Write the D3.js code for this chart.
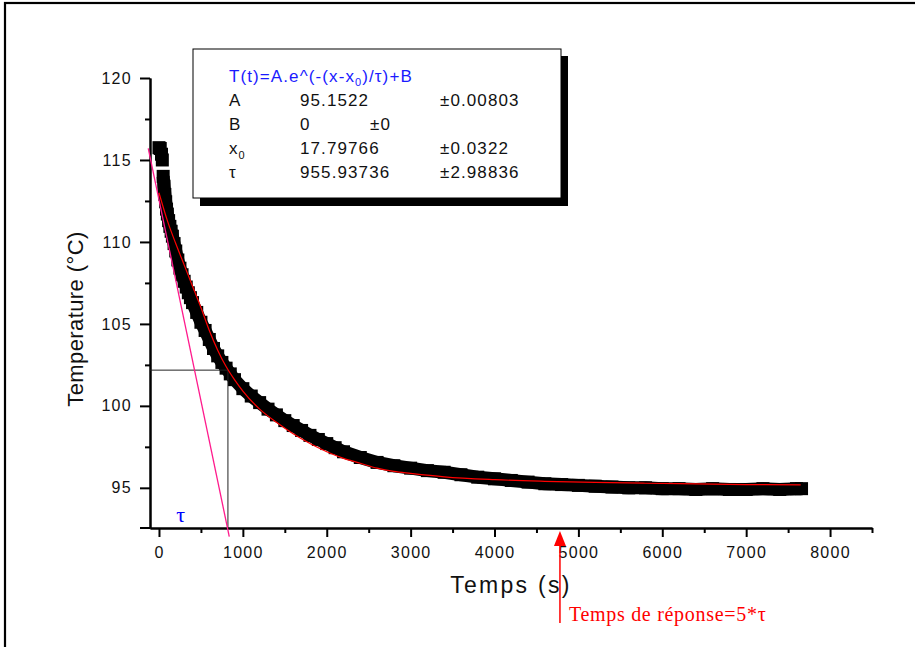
<!DOCTYPE html>
<html>
<head>
<meta charset="utf-8">
<script src="https://cdn.jsdelivr.net/npm/d3@7"></script>
<style>
  body { margin: 0; background: #fff; }
  svg { display: block; font-family: "Liberation Sans", Arial, sans-serif; }
</style>
</head>
<body>
<svg id="graph"></svg>
<script>
// measured cooling curve (s, °C)
var timeData = [0, 15, 30, 40, 50, 60, 70, 80, 90, 100, 115, 130, 145, 160, 180, 200, 225, 250, 275, 300,
  325, 350, 375, 400, 450, 500, 550, 600, 650, 700, 750, 800, 850, 900, 1000, 1100, 1200, 1300, 1400,
  1500, 1600, 1700, 1800, 1900, 2000, 2100, 2200, 2400, 2600, 2800, 3000, 3200, 3400, 3600, 3800, 4000,
  4200, 4400, 4600, 4800, 5000, 5200, 5400, 5600, 5800, 6000, 6200, 6400, 6600, 6800, 7000, 7200, 7400,
  7600, 7660];
var tempData = [115.75, 115.7, 115.35, 115.0, 114.0, 113.4, 112.9, 112.45, 112.0, 111.7, 111.3, 110.95, 110.65, 110.35, 109.9, 109.45, 108.9, 108.4, 108.0, 107.6,
  107.25, 106.9, 106.6, 106.3, 105.7, 105.1, 104.6, 104.05, 103.5, 103.05, 102.65, 102.3, 101.95, 101.6, 101.05, 100.6, 100.2, 99.8, 99.45,
  99.1, 98.8, 98.5, 98.2, 97.95, 97.7, 97.45, 97.2, 96.85, 96.55, 96.35, 96.2, 96.05, 95.95, 95.8, 95.65, 95.55,
  95.45, 95.35, 95.25, 95.2, 95.15, 95.1, 95.05, 95.0, 95.0, 94.95, 94.95, 94.9, 94.95, 94.9, 94.9, 94.95, 94.9,
  94.95, 94.95];

// fitted curve (red)
var fitTime = [0, 100, 200, 300, 400, 500, 600, 700, 800, 900, 1000, 1200, 1400, 1600, 1800, 2000, 2200, 2400,
  2600, 2800, 3000, 3400, 4000, 4600, 5200, 5800, 6400, 7000, 7650];
var fitTemp = [113.0, 111.3, 109.9, 108.6, 107.3, 106.0, 104.6, 103.4, 102.4, 101.6, 100.9, 99.8, 99.0, 98.3, 97.7, 97.2, 96.8, 96.5,
  96.2, 96.0, 95.88, 95.67, 95.5, 95.4, 95.33, 95.28, 95.24, 95.2, 95.18];

// tangent (pink) and tau construction lines
var tangentTime = [-128, 838];
var tangentTemp = [115.71, 92.03];
var tauTime = 822;
var tauTemp = 102.18;
var responseTime = 4780;

var xTicks = [0, 1000, 2000, 3000, 4000, 5000, 6000, 7000, 8000];
var xMinor = [500, 1500, 2500, 3500, 4500, 5500, 6500, 7500, 8500];
var yTicks = [95, 100, 105, 110, 115, 120];
var yMinor = [97.5, 102.5, 107.5, 112.5, 117.5];

var paramNames = ["A", "B", "x", "τ"];
var paramValues = ["95.1522", "0", "17.79766", "955.93736"];
var paramErrors = ["±0.00803", "±0", "±0.0322", "±2.98836"];

var svg = d3.select("#graph")
  .attr("width", 915)
  .attr("height", 647);

// outer frame
svg.append("rect")
  .attr("x", 5).attr("y", 3)
  .attr("width", 1000).attr("height", 1000)
  .attr("fill", "none").attr("stroke", "#000").attr("stroke-width", 2.2);

var x = d3.scaleLinear().domain([-107, 8500]).range([150, 872]);
var y = d3.scaleLinear().domain([92.55, 120]).range([528, 78]);

function styleAxis(g) {
  g.select(".domain").attr("stroke-width", 2);
  g.selectAll(".tick line").attr("stroke-width", 2);
  g.selectAll(".tick text")
    .attr("font-family", "Liberation Sans, Arial, sans-serif")
    .attr("font-size", 16)
    .attr("letter-spacing", 1.3)
    .attr("fill", "#111");
}

// x axis
svg.append("g")
  .attr("transform", "translate(0,528)")
  .call(d3.axisBottom(x).tickValues(xMinor).tickSize(5).tickSizeOuter(0).tickFormat(""))
  .call(styleAxis);
svg.append("g")
  .attr("transform", "translate(0,528)")
  .call(d3.axisBottom(x).tickValues(xTicks).tickSize(9).tickSizeOuter(0).tickPadding(10).tickFormat(d3.format("d")))
  .call(styleAxis);

// y axis
svg.append("g")
  .attr("transform", "translate(150,0)")
  .call(d3.axisLeft(y).tickValues(yMinor).tickSize(5).tickSizeOuter(0).tickFormat(""))
  .call(styleAxis);
svg.append("g")
  .attr("transform", "translate(150,0)")
  .call(d3.axisLeft(y).tickValues(yTicks).tickSize(10).tickSizeOuter(0).tickPadding(8).tickFormat(d3.format("d")))
  .call(styleAxis);
// little stub left of the origin
svg.append("line")
  .attr("x1", 140).attr("x2", 150).attr("y1", y(92.55)).attr("y2", y(92.55))
  .attr("stroke", "#000").attr("stroke-width", 2);

// axis titles
svg.append("text")
  .attr("x", (150 + 872) / 2).attr("y", 593)
  .attr("text-anchor", "middle")
  .attr("font-size", 23).attr("letter-spacing", 2.3)
  .attr("fill", "#111")
  .text("Temps (s)");

svg.append("text")
  .attr("transform", "translate(83,319) rotate(-90)")
  .attr("text-anchor", "middle")
  .attr("font-size", 22).attr("letter-spacing", 0.4)
  .attr("fill", "#111")
  .text("Temperature (°C)");

// data band
var pts = timeData.map(function(t, i) { return [t, tempData[i]]; });
var line = d3.line()
  .x(function(d) { return x(d[0]); })
  .y(function(d) { return y(d[1]); });

svg.append("path")
  .datum(pts.slice(4))
  .attr("d", line)
  .attr("fill", "none")
  .attr("stroke", "#000")
  .attr("stroke-width", 13)
  .attr("stroke-linejoin", "round");

svg.selectAll(".pt")
  .data(pts)
  .enter().append("rect")
  .attr("class", "pt")
  .attr("x", function(d) { return x(d[0]) - 6.5; })
  .attr("y", function(d) { return y(d[1]) - 6.5; })
  .attr("width", 13).attr("height", 13)
  .attr("fill", "#000");

// construction lines for tau
svg.append("line")
  .attr("x1", x(-107)).attr("x2", x(tauTime))
  .attr("y1", y(tauTemp)).attr("y2", y(tauTemp))
  .attr("stroke", "#222").attr("stroke-width", 1);
svg.append("line")
  .attr("x1", x(tauTime)).attr("x2", x(tauTime))
  .attr("y1", y(tauTemp)).attr("y2", y(92.55))
  .attr("stroke", "#222").attr("stroke-width", 1);

// fit curve
var fitPts = fitTime.map(function(t, i) { return [t, fitTemp[i]]; });
svg.append("path")
  .datum(fitPts)
  .attr("d", line.curve(d3.curveMonotoneX))
  .attr("fill", "none")
  .attr("stroke", "#ff0000")
  .attr("stroke-width", 1.2);

// tangent
svg.append("line")
  .attr("x1", x(tangentTime[0])).attr("y1", y(tangentTemp[0]))
  .attr("x2", x(tangentTime[1])).attr("y2", y(tangentTemp[1]))
  .attr("stroke", "#ff1a8c").attr("stroke-width", 1.3);

svg.append("text")
  .attr("x", x(260)).attr("y", 522)
  .attr("text-anchor", "middle")
  .attr("font-family", "Liberation Serif, Times New Roman, serif")
  .attr("font-size", 22)
  .attr("fill", "#0000ff")
  .text("τ");

// response time arrow
var rx = x(responseTime);
svg.append("line")
  .attr("x1", rx).attr("x2", rx)
  .attr("y1", 623).attr("y2", 544)
  .attr("stroke", "#ff0000").attr("stroke-width", 1.5);
svg.append("path")
  .attr("d", "M" + rx + ",531 L" + (rx - 6) + ",546 L" + (rx + 6) + ",546 Z")
  .attr("fill", "#ff0000");
svg.append("text")
  .attr("x", rx + 9).attr("y", 621)
  .attr("font-family", "Liberation Serif, Times New Roman, serif")
  .attr("font-size", 20).attr("letter-spacing", 0.7)
  .attr("fill", "#ff0000")
  .text("Temps de réponse=5*τ");

// parameter box
svg.append("rect")
  .attr("x", 200).attr("y", 56).attr("width", 368).attr("height", 150)
  .attr("fill", "#000");
svg.append("rect")
  .attr("x", 193).attr("y", 49).attr("width", 368).attr("height", 149)
  .attr("fill", "#fff").attr("stroke", "#000").attr("stroke-width", 1);

var box = svg.append("g")
  .attr("font-size", 17)
  .attr("letter-spacing", 1.1)
  .attr("fill", "#111");

var title = box.append("text")
  .attr("x", 229).attr("y", 82)
  .attr("fill", "#1a1aff");
title.append("tspan").text("T(t)=A.e^(-(x-x");
title.append("tspan").attr("font-size", 11).attr("dy", 4).text("0");
title.append("tspan").attr("dy", -4).text(")/τ)+B");

paramNames.forEach(function(n, i) {
  var yy = 106 + i * 24;
  var t = box.append("text").attr("x", 229).attr("y", yy).text(n);
  if (n === "x") t.append("tspan").attr("font-size", 11).attr("dy", 5).text("0");
  box.append("text").attr("x", 300).attr("y", yy).text(paramValues[i]);
  box.append("text").attr("x", n === "B" ? 370 : 440).attr("y", yy).text(paramErrors[i]);
});
</script>
</body>
</html>
